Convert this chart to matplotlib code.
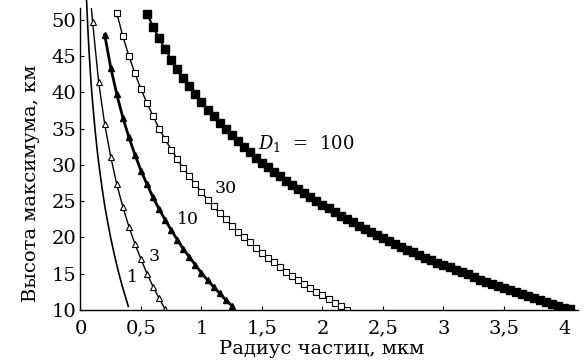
import matplotlib
matplotlib.use("Agg")
import matplotlib.pyplot as plt

# === Data ===
# D1 = 1 : plain line, no markers
d1_x = [0.05, 0.055, 0.06, 0.07, 0.08, 0.09, 0.10, 0.12, 0.14, 0.16, 0.18, 0.20,
        0.22, 0.25, 0.28, 0.31, 0.34, 0.37, 0.395]
d1_y = [52.7, 50.8, 49.0, 45.8, 43.1, 40.7, 38.6, 34.9, 31.7, 29.0, 26.6, 24.4,
        22.5, 19.9, 17.6, 15.5, 13.6, 11.9, 10.5]

# D1 = 3 : open triangles (first point is only where the line leaves the frame)
d3_x = [0.09, 0.10, 0.15, 0.20, 0.25, 0.30, 0.35, 0.40, 0.45, 0.50, 0.55, 0.60, 0.65, 0.70]
d3_y = [51.6, 49.7, 41.4, 35.6, 31.1, 27.3, 24.2, 21.5, 19.1, 17.0, 15.0, 13.2, 11.6, 10.1]

# D1 = 10 : filled triangles, thick line
d10_x = [0.20, 0.25, 0.30, 0.35, 0.40, 0.45, 0.50, 0.55, 0.60, 0.65, 0.70, 0.75,
         0.80, 0.85, 0.90, 0.95, 1.00, 1.05, 1.10, 1.15, 1.20, 1.25]
d10_y = [47.9, 43.4, 39.7, 36.5, 33.8, 31.4, 29.2, 27.3, 25.5, 23.9, 22.4, 21.0,
         19.7, 18.4, 17.3, 16.2, 15.1, 14.1, 13.2, 12.3, 11.4, 10.6]

# D1 = 30 : open squares
d30_x = [0.30, 0.35, 0.40, 0.45, 0.50, 0.55, 0.60, 0.65, 0.70, 0.75, 0.80, 0.85, 0.90,
         0.95, 1.00, 1.05, 1.10, 1.15, 1.20, 1.25, 1.30, 1.35, 1.40, 1.45, 1.50, 1.55,
         1.60, 1.65, 1.70, 1.75, 1.80, 1.85, 1.90, 1.95, 2.00, 2.05, 2.10, 2.15, 2.20]
d30_y = [50.9, 47.7, 45.0, 42.6, 40.4, 38.5, 36.7, 35.0, 33.5, 32.1, 30.8, 29.5, 28.4,
         27.3, 26.2, 25.2, 24.3, 23.3, 22.5, 21.6, 20.8, 20.1, 19.3, 18.6, 17.9, 17.2,
         16.6, 15.9, 15.3, 14.7, 14.2, 13.6, 13.0, 12.5, 12.0, 11.5, 11.0, 10.5, 10.0]

# D1 = 100 : filled squares
d100_x = [0.55, 0.60, 0.65, 0.70, 0.75, 0.80, 0.85, 0.90, 0.95, 1.00, 1.05, 1.10,
          1.15, 1.20, 1.25, 1.30, 1.35, 1.40, 1.45, 1.50, 1.55, 1.60, 1.65, 1.70,
          1.75, 1.80, 1.85, 1.90, 1.95, 2.00, 2.05, 2.10, 2.15, 2.20, 2.25, 2.30,
          2.35, 2.40, 2.45, 2.50, 2.55, 2.60, 2.65, 2.70, 2.75, 2.80, 2.85, 2.90,
          2.95, 3.00, 3.05, 3.10, 3.15, 3.20, 3.25, 3.30, 3.35, 3.40, 3.45, 3.50,
          3.55, 3.60, 3.65, 3.70, 3.75, 3.80, 3.85, 3.90, 3.95, 4.00, 4.05]
d100_y = [50.8, 49.0, 47.4, 45.9, 44.5, 43.2, 41.9, 40.8, 39.7, 38.6, 37.6, 36.7,
          35.8, 34.9, 34.1, 33.3, 32.5, 31.7, 31.0, 30.3, 29.7, 29.0, 28.4, 27.8,
          27.2, 26.6, 26.1, 25.5, 25.0, 24.5, 24.0, 23.5, 23.0, 22.5, 22.1, 21.6,
          21.2, 20.7, 20.3, 19.9, 19.5, 19.1, 18.7, 18.3, 18.0, 17.6, 17.2, 16.9,
          16.5, 16.2, 15.9, 15.5, 15.2, 14.9, 14.6, 14.2, 13.9, 13.6, 13.3, 13.0,
          12.8, 12.5, 12.2, 11.9, 11.6, 11.4, 11.1, 10.8, 10.6, 10.3, 10.1]

x_ticks = [0, 0.5, 1, 1.5, 2, 2.5, 3, 3.5, 4]
x_tick_labels = ["0", "0,5", "1", "1,5", "2", "2,5", "3", "3,5", "4"]
y_ticks = [10, 15, 20, 25, 30, 35, 40, 45, 50]

# === Figure ===
plt.rcParams["font.family"] = ["DejaVu Serif"]
plt.rcParams["mathtext.fontset"] = "dejavuserif"

fig = plt.figure(figsize=(5.85, 3.63), dpi=100)
ax = fig.add_axes([0.1376, 0.146, 0.850, 0.832])

ax.plot(d1_x, d1_y, color="black", lw=1.2, clip_on=False)
ax.plot(d3_x, d3_y, color="black", lw=1.0, marker="^", ms=4, mfc="white",
        mec="black", mew=0.8, markevery=slice(1, None))
ax.plot(d10_x, d10_y, color="black", lw=2.0, marker="^", ms=4.5, mfc="black", mec="black")
ax.plot(d30_x, d30_y, color="black", lw=1.0, marker="s", ms=4.8, mfc="white",
        mec="black", mew=0.8)
ax.plot(d100_x, d100_y, color="black", lw=1.5, marker="s", ms=5.2, mfc="black", mec="black")

# curve labels
ax.text(0.38, 14.5, "1", fontsize=12.5, va="center")
ax.text(0.56, 17.4, "3", fontsize=12.5, va="center")
ax.text(0.80, 22.5, "10", fontsize=12.5, va="center")
ax.text(1.11, 26.8, "30", fontsize=12.5, va="center")
ax.text(1.47, 33.0, r"$D_1$  =  100", fontsize=13, va="center")

ax.set_xlim(0, 4.11)
ax.set_ylim(10, 51.6)
ax.set_xticks(x_ticks)
ax.set_xticklabels(x_tick_labels)
ax.set_yticks(y_ticks)
ax.tick_params(direction="in", length=3, width=0.8, labelsize=14)
ax.tick_params(axis="x", pad=7)
ax.tick_params(axis="y", pad=3)

ax.spines["top"].set_visible(False)
ax.spines["right"].set_visible(False)
ax.spines["left"].set_linewidth(1.0)
ax.spines["bottom"].set_linewidth(1.0)

ax.set_xlabel("Радиус частиц, мкм", fontsize=14)
ax.set_ylabel("Высота максимума, км", fontsize=14)
ax.xaxis.set_label_coords(0.485, -0.098)
ax.xaxis.label.set_va("top")
ax.yaxis.set_label_coords(-0.082, 0.42)

fig.savefig("out.png", dpi=100)
